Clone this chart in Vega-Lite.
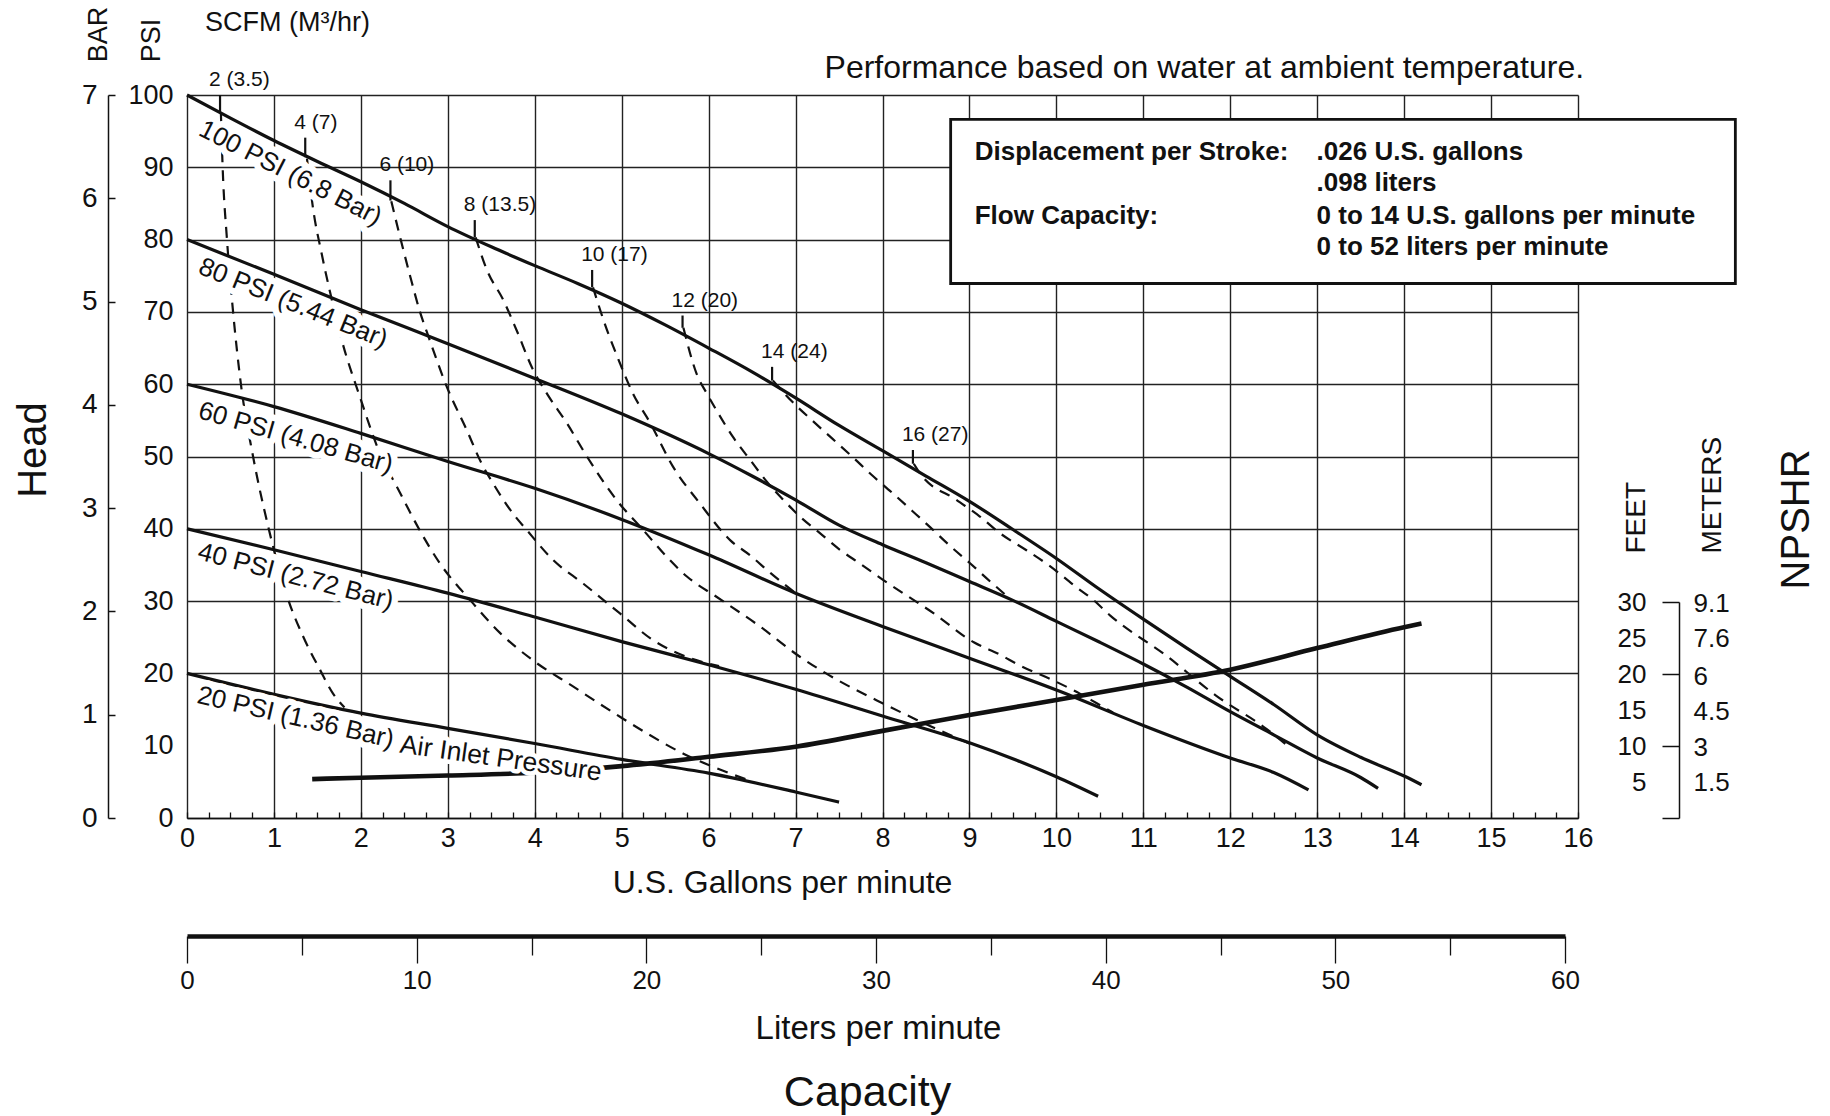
{
  "$schema": "https://vega.github.io/schema/vega-lite/v6.json",
  "width": 1391,
  "height": 723,
  "autosize": {"type": "none"},
  "padding": {"left": 187, "top": 95, "right": 252, "bottom": 298},
  "background": "white",
  "config": {
    "view": {"stroke": null},
    "font": "Liberation Sans",
    "text": {"font": "Liberation Sans", "color": "#111"},
    "axis": {
      "labelFont": "Liberation Sans", "titleFont": "Liberation Sans",
      "labelColor": "#111", "titleColor": "#111", "tickColor": "#111", "domainColor": "#111",
      "gridColor": "#222", "gridWidth": 1.4, "gridOpacity": 1,
      "titleFontWeight": "normal", "labelFontWeight": "normal"
    }
  },
  "datasets": {
    "pressure": [
      {"curve": "100 PSI", "gpm": 0, "psi": 100}, {"curve": "100 PSI", "gpm": 0.5, "psi": 96.8}, {"curve": "100 PSI", "gpm": 1, "psi": 93.7}, {"curve": "100 PSI", "gpm": 1.5, "psi": 90.8}, {"curve": "100 PSI", "gpm": 2, "psi": 88.0}, {"curve": "100 PSI", "gpm": 2.5, "psi": 85.0}, {"curve": "100 PSI", "gpm": 3, "psi": 81.8}, {"curve": "100 PSI", "gpm": 3.5, "psi": 79.0}, {"curve": "100 PSI", "gpm": 4, "psi": 76.4}, {"curve": "100 PSI", "gpm": 4.5, "psi": 73.9}, {"curve": "100 PSI", "gpm": 5, "psi": 71.2}, {"curve": "100 PSI", "gpm": 5.5, "psi": 68.2}, {"curve": "100 PSI", "gpm": 6, "psi": 65.0}, {"curve": "100 PSI", "gpm": 6.5, "psi": 61.7}, {"curve": "100 PSI", "gpm": 7, "psi": 58.1}, {"curve": "100 PSI", "gpm": 7.5, "psi": 54.3}, {"curve": "100 PSI", "gpm": 8, "psi": 50.8}, {"curve": "100 PSI", "gpm": 8.5, "psi": 47.3}, {"curve": "100 PSI", "gpm": 9, "psi": 43.8}, {"curve": "100 PSI", "gpm": 9.5, "psi": 39.9}, {"curve": "100 PSI", "gpm": 10, "psi": 35.9}, {"curve": "100 PSI", "gpm": 10.5, "psi": 31.6}, {"curve": "100 PSI", "gpm": 11, "psi": 27.5}, {"curve": "100 PSI", "gpm": 11.5, "psi": 23.5}, {"curve": "100 PSI", "gpm": 12, "psi": 19.6}, {"curve": "100 PSI", "gpm": 12.5, "psi": 15.7}, {"curve": "100 PSI", "gpm": 13, "psi": 11.5}, {"curve": "100 PSI", "gpm": 13.5, "psi": 8.4}, {"curve": "100 PSI", "gpm": 14, "psi": 5.8}, {"curve": "100 PSI", "gpm": 14.2, "psi": 4.6},
      {"curve": "80 PSI", "gpm": 0, "psi": 80}, {"curve": "80 PSI", "gpm": 1, "psi": 75.2}, {"curve": "80 PSI", "gpm": 2, "psi": 70.3}, {"curve": "80 PSI", "gpm": 3, "psi": 65.6}, {"curve": "80 PSI", "gpm": 4, "psi": 60.8}, {"curve": "80 PSI", "gpm": 5, "psi": 55.9}, {"curve": "80 PSI", "gpm": 6, "psi": 50.4}, {"curve": "80 PSI", "gpm": 6.5, "psi": 47.3}, {"curve": "80 PSI", "gpm": 7, "psi": 44.0}, {"curve": "80 PSI", "gpm": 7.5, "psi": 40.5}, {"curve": "80 PSI", "gpm": 8, "psi": 37.8}, {"curve": "80 PSI", "gpm": 8.5, "psi": 35.3}, {"curve": "80 PSI", "gpm": 9, "psi": 32.7}, {"curve": "80 PSI", "gpm": 9.5, "psi": 30.1}, {"curve": "80 PSI", "gpm": 10, "psi": 27.2}, {"curve": "80 PSI", "gpm": 10.5, "psi": 24.3}, {"curve": "80 PSI", "gpm": 11, "psi": 21.3}, {"curve": "80 PSI", "gpm": 11.5, "psi": 18.1}, {"curve": "80 PSI", "gpm": 12, "psi": 14.7}, {"curve": "80 PSI", "gpm": 12.5, "psi": 11.5}, {"curve": "80 PSI", "gpm": 13, "psi": 8.3}, {"curve": "80 PSI", "gpm": 13.5, "psi": 5.6}, {"curve": "80 PSI", "gpm": 13.7, "psi": 4.1},
      {"curve": "60 PSI", "gpm": 0, "psi": 60}, {"curve": "60 PSI", "gpm": 1, "psi": 56.9}, {"curve": "60 PSI", "gpm": 2, "psi": 53.2}, {"curve": "60 PSI", "gpm": 3, "psi": 49.3}, {"curve": "60 PSI", "gpm": 4, "psi": 45.6}, {"curve": "60 PSI", "gpm": 5, "psi": 41.3}, {"curve": "60 PSI", "gpm": 6, "psi": 36.4}, {"curve": "60 PSI", "gpm": 7, "psi": 31.1}, {"curve": "60 PSI", "gpm": 8, "psi": 26.5}, {"curve": "60 PSI", "gpm": 9, "psi": 22.1}, {"curve": "60 PSI", "gpm": 10, "psi": 17.7}, {"curve": "60 PSI", "gpm": 11, "psi": 12.8}, {"curve": "60 PSI", "gpm": 12, "psi": 8.3}, {"curve": "60 PSI", "gpm": 12.5, "psi": 6.3}, {"curve": "60 PSI", "gpm": 12.9, "psi": 3.9},
      {"curve": "40 PSI", "gpm": 0, "psi": 40}, {"curve": "40 PSI", "gpm": 1, "psi": 37.1}, {"curve": "40 PSI", "gpm": 2, "psi": 34.1}, {"curve": "40 PSI", "gpm": 3, "psi": 31.1}, {"curve": "40 PSI", "gpm": 4, "psi": 27.8}, {"curve": "40 PSI", "gpm": 5, "psi": 24.4}, {"curve": "40 PSI", "gpm": 6, "psi": 21.2}, {"curve": "40 PSI", "gpm": 7, "psi": 17.8}, {"curve": "40 PSI", "gpm": 8, "psi": 14.1}, {"curve": "40 PSI", "gpm": 9, "psi": 10.4}, {"curve": "40 PSI", "gpm": 10, "psi": 5.7}, {"curve": "40 PSI", "gpm": 10.48, "psi": 3.0},
      {"curve": "20 PSI", "gpm": 0, "psi": 20}, {"curve": "20 PSI", "gpm": 1, "psi": 17.1}, {"curve": "20 PSI", "gpm": 2, "psi": 14.5}, {"curve": "20 PSI", "gpm": 3, "psi": 12.4}, {"curve": "20 PSI", "gpm": 4, "psi": 10.3}, {"curve": "20 PSI", "gpm": 5, "psi": 8.1}, {"curve": "20 PSI", "gpm": 6, "psi": 6.2}, {"curve": "20 PSI", "gpm": 7, "psi": 3.6}, {"curve": "20 PSI", "gpm": 7.5, "psi": 2.2}
    ],
    "scfm": [
      {"curve": "2 (3.5)", "gpm": 0.39, "psi": 97.5}, {"curve": "2 (3.5)", "gpm": 0.41, "psi": 90}, {"curve": "2 (3.5)", "gpm": 0.46, "psi": 80}, {"curve": "2 (3.5)", "gpm": 0.53, "psi": 70}, {"curve": "2 (3.5)", "gpm": 0.62, "psi": 60}, {"curve": "2 (3.5)", "gpm": 0.76, "psi": 50}, {"curve": "2 (3.5)", "gpm": 0.94, "psi": 40}, {"curve": "2 (3.5)", "gpm": 1.17, "psi": 30}, {"curve": "2 (3.5)", "gpm": 1.34, "psi": 25}, {"curve": "2 (3.5)", "gpm": 1.53, "psi": 20.5}, {"curve": "2 (3.5)", "gpm": 1.68, "psi": 17.2}, {"curve": "2 (3.5)", "gpm": 1.81, "psi": 15.3},
      {"curve": "4 (7)", "gpm": 1.38, "psi": 91.2}, {"curve": "4 (7)", "gpm": 1.45, "psi": 84.3}, {"curve": "4 (7)", "gpm": 1.55, "psi": 78.0}, {"curve": "4 (7)", "gpm": 1.65, "psi": 72.5}, {"curve": "4 (7)", "gpm": 1.78, "psi": 66.1}, {"curve": "4 (7)", "gpm": 1.99, "psi": 58.2}, {"curve": "4 (7)", "gpm": 2.2, "psi": 51.0}, {"curve": "4 (7)", "gpm": 2.45, "psi": 45.0}, {"curve": "4 (7)", "gpm": 2.7, "psi": 39.3}, {"curve": "4 (7)", "gpm": 2.91, "psi": 35.2}, {"curve": "4 (7)", "gpm": 3.26, "psi": 30.1}, {"curve": "4 (7)", "gpm": 3.6, "psi": 25.6}, {"curve": "4 (7)", "gpm": 3.98, "psi": 21.8}, {"curve": "4 (7)", "gpm": 4.44, "psi": 18.2}, {"curve": "4 (7)", "gpm": 4.98, "psi": 14.0}, {"curve": "4 (7)", "gpm": 5.71, "psi": 8.9}, {"curve": "4 (7)", "gpm": 6.44, "psi": 5.3},
      {"curve": "6 (10)", "gpm": 2.35, "psi": 85.3}, {"curve": "6 (10)", "gpm": 2.45, "psi": 80.4}, {"curve": "6 (10)", "gpm": 2.57, "psi": 74.8}, {"curve": "6 (10)", "gpm": 2.68, "psi": 70.0}, {"curve": "6 (10)", "gpm": 2.78, "psi": 66.5}, {"curve": "6 (10)", "gpm": 2.99, "psi": 59.6}, {"curve": "6 (10)", "gpm": 3.22, "psi": 53.6}, {"curve": "6 (10)", "gpm": 3.39, "psi": 49.0}, {"curve": "6 (10)", "gpm": 3.52, "psi": 46.3}, {"curve": "6 (10)", "gpm": 3.75, "psi": 42.1}, {"curve": "6 (10)", "gpm": 3.91, "psi": 39.8}, {"curve": "6 (10)", "gpm": 4.21, "psi": 35.7}, {"curve": "6 (10)", "gpm": 4.56, "psi": 32.4}, {"curve": "6 (10)", "gpm": 4.98, "psi": 28.3}, {"curve": "6 (10)", "gpm": 5.36, "psi": 24.6}, {"curve": "6 (10)", "gpm": 5.7, "psi": 22.5}, {"curve": "6 (10)", "gpm": 6.12, "psi": 21.0},
      {"curve": "8 (13.5)", "gpm": 3.32, "psi": 80.3}, {"curve": "8 (13.5)", "gpm": 3.45, "psi": 75.8}, {"curve": "8 (13.5)", "gpm": 3.64, "psi": 71.6}, {"curve": "8 (13.5)", "gpm": 3.79, "psi": 67.5}, {"curve": "8 (13.5)", "gpm": 3.98, "psi": 62.0}, {"curve": "8 (13.5)", "gpm": 4.14, "psi": 58.7}, {"curve": "8 (13.5)", "gpm": 4.37, "psi": 54.6}, {"curve": "8 (13.5)", "gpm": 4.6, "psi": 50.0}, {"curve": "8 (13.5)", "gpm": 4.94, "psi": 44.0}, {"curve": "8 (13.5)", "gpm": 5.25, "psi": 39.8}, {"curve": "8 (13.5)", "gpm": 5.52, "psi": 36.1}, {"curve": "8 (13.5)", "gpm": 5.75, "psi": 33.4}, {"curve": "8 (13.5)", "gpm": 6.09, "psi": 30.6}, {"curve": "8 (13.5)", "gpm": 6.59, "psi": 26.5}, {"curve": "8 (13.5)", "gpm": 7.05, "psi": 22.3}, {"curve": "8 (13.5)", "gpm": 7.48, "psi": 19.1}, {"curve": "8 (13.5)", "gpm": 7.93, "psi": 16.3}, {"curve": "8 (13.5)", "gpm": 8.39, "psi": 13.6}, {"curve": "8 (13.5)", "gpm": 9.0, "psi": 10.3},
      {"curve": "10 (17)", "gpm": 4.67, "psi": 73.4}, {"curve": "10 (17)", "gpm": 4.79, "psi": 68.9}, {"curve": "10 (17)", "gpm": 4.98, "psi": 62.9}, {"curve": "10 (17)", "gpm": 5.13, "psi": 58.7}, {"curve": "10 (17)", "gpm": 5.33, "psi": 54.6}, {"curve": "10 (17)", "gpm": 5.59, "psi": 48.6}, {"curve": "10 (17)", "gpm": 5.9, "psi": 43.5}, {"curve": "10 (17)", "gpm": 6.25, "psi": 38.4}, {"curve": "10 (17)", "gpm": 6.48, "psi": 36.3}, {"curve": "10 (17)", "gpm": 6.71, "psi": 33.9}, {"curve": "10 (17)", "gpm": 7.0, "psi": 31.1},
      {"curve": "12 (20)", "gpm": 5.71, "psi": 67.8}, {"curve": "12 (20)", "gpm": 5.86, "psi": 61.5}, {"curve": "12 (20)", "gpm": 5.98, "psi": 58.7}, {"curve": "12 (20)", "gpm": 6.09, "psi": 56.4}, {"curve": "12 (20)", "gpm": 6.28, "psi": 52.7}, {"curve": "12 (20)", "gpm": 6.48, "psi": 49.5}, {"curve": "12 (20)", "gpm": 6.67, "psi": 46.5}, {"curve": "12 (20)", "gpm": 6.86, "psi": 44.0}, {"curve": "12 (20)", "gpm": 7.05, "psi": 41.7}, {"curve": "12 (20)", "gpm": 7.28, "psi": 39.4}, {"curve": "12 (20)", "gpm": 7.51, "psi": 37.1}, {"curve": "12 (20)", "gpm": 7.74, "psi": 35.2}, {"curve": "12 (20)", "gpm": 8.01, "psi": 32.9}, {"curve": "12 (20)", "gpm": 8.59, "psi": 28.3}, {"curve": "12 (20)", "gpm": 9.05, "psi": 24.3}, {"curve": "12 (20)", "gpm": 9.35, "psi": 22.6}, {"curve": "12 (20)", "gpm": 9.58, "psi": 21.1}, {"curve": "12 (20)", "gpm": 9.97, "psi": 19.0}, {"curve": "12 (20)", "gpm": 10.27, "psi": 17.2}, {"curve": "12 (20)", "gpm": 10.46, "psi": 15.9}, {"curve": "12 (20)", "gpm": 10.65, "psi": 14.6},
      {"curve": "14 (24)", "gpm": 6.74, "psi": 60.5}, {"curve": "14 (24)", "gpm": 6.96, "psi": 57.6}, {"curve": "14 (24)", "gpm": 7.19, "psi": 55.0}, {"curve": "14 (24)", "gpm": 7.42, "psi": 52.5}, {"curve": "14 (24)", "gpm": 7.65, "psi": 50.0}, {"curve": "14 (24)", "gpm": 7.88, "psi": 47.4}, {"curve": "14 (24)", "gpm": 8.11, "psi": 45.0}, {"curve": "14 (24)", "gpm": 8.34, "psi": 42.5}, {"curve": "14 (24)", "gpm": 8.55, "psi": 40.2}, {"curve": "14 (24)", "gpm": 8.78, "psi": 37.6}, {"curve": "14 (24)", "gpm": 9.01, "psi": 35.2}, {"curve": "14 (24)", "gpm": 9.24, "psi": 32.7}, {"curve": "14 (24)", "gpm": 9.47, "psi": 30.3},
      {"curve": "16 (27)", "gpm": 8.36, "psi": 49.0}, {"curve": "16 (27)", "gpm": 8.43, "psi": 47.7}, {"curve": "16 (27)", "gpm": 8.85, "psi": 44.0}, {"curve": "16 (27)", "gpm": 9.12, "psi": 41.7}, {"curve": "16 (27)", "gpm": 9.35, "psi": 39.4}, {"curve": "16 (27)", "gpm": 9.66, "psi": 37.0}, {"curve": "16 (27)", "gpm": 9.93, "psi": 34.8}, {"curve": "16 (27)", "gpm": 10.2, "psi": 32.2}, {"curve": "16 (27)", "gpm": 10.43, "psi": 30.1}, {"curve": "16 (27)", "gpm": 10.62, "psi": 28.0}, {"curve": "16 (27)", "gpm": 11.27, "psi": 22.4}, {"curve": "16 (27)", "gpm": 11.84, "psi": 16.9}, {"curve": "16 (27)", "gpm": 12.42, "psi": 12.3}, {"curve": "16 (27)", "gpm": 12.65, "psi": 10.1}
    ],
    "scfmTicks": [
      {"label": "2 (3.5)", "gpm": 0.38, "top": 100, "bottom": 97.5},
      {"label": "4 (7)", "gpm": 1.36, "top": 94.1, "bottom": 91.4},
      {"label": "6 (10)", "gpm": 2.34, "top": 88.2, "bottom": 85.4},
      {"label": "8 (13.5)", "gpm": 3.31, "top": 82.7, "bottom": 80.3},
      {"label": "10 (17)", "gpm": 4.66, "top": 75.8, "bottom": 73.4},
      {"label": "12 (20)", "gpm": 5.7, "top": 69.5, "bottom": 67.8},
      {"label": "14 (24)", "gpm": 6.73, "top": 62.4, "bottom": 60.5},
      {"label": "16 (27)", "gpm": 8.35, "top": 50.9, "bottom": 49.0}
    ],
    "npshr": [
      {"gpm": 1.44, "feet": 5.4}, {"gpm": 2, "feet": 5.6}, {"gpm": 3, "feet": 5.9}, {"gpm": 4, "feet": 6.3}, {"gpm": 5, "feet": 7.2}, {"gpm": 6, "feet": 8.5}, {"gpm": 7, "feet": 9.9}, {"gpm": 8, "feet": 12.1}, {"gpm": 9, "feet": 14.3}, {"gpm": 10, "feet": 16.4}, {"gpm": 11, "feet": 18.5}, {"gpm": 12, "feet": 20.6}, {"gpm": 13, "feet": 23.6}, {"gpm": 14, "feet": 26.5}, {"gpm": 14.2, "feet": 27.0}
    ],
    "pressureLabels": [
      {"label": "100 PSI (6.8 Bar)", "gpm": 1.19, "psi": 89.2},
      {"label": "80 PSI (5.44 Bar)", "gpm": 1.22, "psi": 71.2},
      {"label": "60 PSI (4.08 Bar)", "gpm": 1.25, "psi": 52.6},
      {"label": "40 PSI (2.72 Bar)", "gpm": 1.25, "psi": 33.4},
      {"label": "20 PSI (1.36 Bar)", "gpm": 1.25, "psi": 13.9},
      {"label": "Air Inlet Pressure", "gpm": 3.61, "psi": 8.2}
    ],
    "box": [{"gpm1": 8.784, "gpm2": 17.81, "psi1": 96.64, "psi2": 73.93}],
    "notes": [
      {"text": "Displacement per Stroke:", "gpm": 9.061, "psi": 92.08},
      {"text": ".026 U.S. gallons", "gpm": 12.993, "psi": 92.08},
      {"text": ".098 liters", "gpm": 12.993, "psi": 87.79},
      {"text": "Flow Capacity:", "gpm": 9.061, "psi": 83.3},
      {"text": "0 to 14 U.S. gallons per minute", "gpm": 12.993, "psi": 83.3},
      {"text": "0 to 52 liters per minute", "gpm": 12.993, "psi": 78.95}
    ],
    "annotations": [
      {"text": "Head", "gpm": -1.765, "psi": 50.9},
      {"text": "NPSHR", "gpm": 18.52, "psi": 41.3},
      {"text": "SCFM (M³/hr)", "gpm": 0.207, "psi": 109.9},
      {"text": "Performance based on water at ambient temperature.", "gpm": 16.07, "psi": 103.7}
    ],
    "barExtent": [{"bar": 0}, {"bar": 7}],
    "meterExtent": [{"m": 0}, {"m": 9.144}],
    "literExtent": [{"lpm": 0}, {"lpm": 60}]
  },
  "resolve": {"scale": {"x": "independent", "y": "independent"}},
  "layer": [
    {
      "data": {"name": "npshr"},
      "mark": {"type": "line", "interpolate": "monotone", "strokeWidth": 4.6, "color": "#111"},
      "encoding": {
        "x": {"field": "gpm", "type": "quantitative", "scale": {"domain": [0, 16], "nice": false}, "axis": null},
        "y": {"field": "feet", "type": "quantitative", "scale": {"domain": [0, 30], "range": [723, 507], "nice": false},
          "axis": {
            "orient": "left", "offset": -1492, "values": [0, 5, 10, 15, 20, 25, 30], "grid": false,
            "domain": true, "domainWidth": 1.5, "tickSize": 17, "tickWidth": 1.5,
            "tickOpacity": {"condition": {"test": "datum.value % 10 === 0", "value": 1}, "value": 0},
            "labelExpr": "datum.value === 0 ? '' : datum.label", "labelPadding": 16, "labelFontSize": 26,
            "title": "FEET", "titleFontSize": 28, "titleAngle": 270, "titleAlign": "left", "titleBaseline": "middle", "titleX": -43, "titleY": 458
          }
        }
      }
    },
    {
      "resolve": {"axis": {"x": "independent", "y": "independent"}},
      "layer": [
        {
          "data": {"name": "pressure"},
          "mark": {"type": "line", "interpolate": "monotone", "strokeWidth": 3.2, "color": "#111"},
          "encoding": {
            "x": {"field": "gpm", "type": "quantitative", "scale": {"domain": [0, 16], "nice": false},
              "axis": {
                "orient": "bottom",
                "values": [0,0.25,0.5,0.75,1,1.25,1.5,1.75,2,2.25,2.5,2.75,3,3.25,3.5,3.75,4,4.25,4.5,4.75,5,5.25,5.5,5.75,6,6.25,6.5,6.75,7,7.25,7.5,7.75,8,8.25,8.5,8.75,9,9.25,9.5,9.75,10,10.25,10.5,10.75,11,11.25,11.5,11.75,12,12.25,12.5,12.75,13,13.25,13.5,13.75,14,14.25,14.5,14.75,15,15.25,15.5,15.75,16],
                "grid": true,
                "gridOpacity": {"condition": {"test": "datum.value % 1 === 0", "value": 1}, "value": 0},
                "tickSize": -6, "tickWidth": 1.3, "domain": true, "domainWidth": 1.4,
                "labelExpr": "datum.value % 1 === 0 ? format(datum.value, 'd') : ''",
                "labelFontSize": 27, "labelPadding": 13, "labelFlush": false, "labelOverlap": false,
                "title": "U.S. Gallons per minute", "titleFontSize": 32, "titleX": 595, "titleY": 64, "titleBaseline": "middle", "titleAlign": "center"
              }
            },
            "y": {"field": "psi", "type": "quantitative", "scale": {"domain": [0, 100], "nice": false},
              "axis": {
                "orient": "left", "values": [0, 10, 20, 30, 40, 50, 60, 70, 80, 90, 100], "grid": true,
                "gridOpacity": {"condition": {"test": "datum.value === 10", "value": 0}, "value": 1},
                "domain": false, "tickSize": 0, "labelPadding": 14, "labelFontSize": 27,
                "title": "PSI", "titleFontSize": 27, "titleAngle": 270, "titleAlign": "left", "titleBaseline": "middle", "titleX": -35.6, "titleY": -33.3
              }
            },
            "detail": {"field": "curve"}
          }
        },
        {
          "data": {"name": "scfm"},
          "mark": {"type": "line", "interpolate": "monotone", "strokeWidth": 2.2, "strokeDash": [11, 8], "color": "#111"},
          "encoding": {
            "x": {"field": "gpm", "type": "quantitative", "scale": {"domain": [0, 16], "nice": false}, "axis": null},
            "y": {"field": "psi", "type": "quantitative", "scale": {"domain": [0, 100], "nice": false}, "axis": null},
            "detail": {"field": "curve"}
          }
        },
        {
          "data": {"name": "scfmTicks"},
          "mark": {"type": "rule", "strokeWidth": 2.2, "color": "#111"},
          "encoding": {
            "x": {"field": "gpm", "type": "quantitative", "scale": {"domain": [0, 16], "nice": false}, "axis": null},
            "y": {"field": "top", "type": "quantitative", "scale": {"domain": [0, 100], "nice": false}, "axis": null},
            "y2": {"field": "bottom"}
          }
        },
        {
          "data": {"name": "scfmTicks"},
          "mark": {"type": "text", "align": "left", "baseline": "bottom", "dx": -11, "dy": -5, "fontSize": 21, "color": "#111"},
          "encoding": {
            "x": {"field": "gpm", "type": "quantitative", "scale": {"domain": [0, 16], "nice": false}, "axis": null},
            "y": {"field": "top", "type": "quantitative", "scale": {"domain": [0, 100], "nice": false}, "axis": null},
            "text": {"field": "label"}
          }
        },
        {
          "data": {"name": "pressureLabels"},
          "transform": [{"filter": "datum.label === '100 PSI (6.8 Bar)'"}],
          "encoding": {
            "x": {"field": "gpm", "type": "quantitative", "scale": {"domain": [0, 16], "nice": false}, "axis": null},
            "y": {"field": "psi", "type": "quantitative", "scale": {"domain": [0, 100], "nice": false}, "axis": null},
            "text": {"field": "label"}
          },
          "layer": [
            {"mark": {"type": "text", "angle": 27, "fontSize": 26, "color": "white", "stroke": "white", "strokeWidth": 13, "strokeJoin": "round"}},
            {"mark": {"type": "text", "angle": 27, "fontSize": 26, "color": "#111"}}
          ]
        },
        {
          "data": {"name": "pressureLabels"},
          "transform": [{"filter": "datum.label === '80 PSI (5.44 Bar)'"}],
          "encoding": {
            "x": {"field": "gpm", "type": "quantitative", "scale": {"domain": [0, 16], "nice": false}, "axis": null},
            "y": {"field": "psi", "type": "quantitative", "scale": {"domain": [0, 100], "nice": false}, "axis": null},
            "text": {"field": "label"}
          },
          "layer": [
            {"mark": {"type": "text", "angle": 22, "fontSize": 26, "color": "white", "stroke": "white", "strokeWidth": 13, "strokeJoin": "round"}},
            {"mark": {"type": "text", "angle": 22, "fontSize": 26, "color": "#111"}}
          ]
        },
        {
          "data": {"name": "pressureLabels"},
          "transform": [{"filter": "datum.label === '60 PSI (4.08 Bar)'"}],
          "encoding": {
            "x": {"field": "gpm", "type": "quantitative", "scale": {"domain": [0, 16], "nice": false}, "axis": null},
            "y": {"field": "psi", "type": "quantitative", "scale": {"domain": [0, 100], "nice": false}, "axis": null},
            "text": {"field": "label"}
          },
          "layer": [
            {"mark": {"type": "text", "angle": 16, "fontSize": 26, "color": "white", "stroke": "white", "strokeWidth": 13, "strokeJoin": "round"}},
            {"mark": {"type": "text", "angle": 16, "fontSize": 26, "color": "#111"}}
          ]
        },
        {
          "data": {"name": "pressureLabels"},
          "transform": [{"filter": "datum.label === '40 PSI (2.72 Bar)'"}],
          "encoding": {
            "x": {"field": "gpm", "type": "quantitative", "scale": {"domain": [0, 16], "nice": false}, "axis": null},
            "y": {"field": "psi", "type": "quantitative", "scale": {"domain": [0, 100], "nice": false}, "axis": null},
            "text": {"field": "label"}
          },
          "layer": [
            {"mark": {"type": "text", "angle": 14.5, "fontSize": 26, "color": "white", "stroke": "white", "strokeWidth": 13, "strokeJoin": "round"}},
            {"mark": {"type": "text", "angle": 14.5, "fontSize": 26, "color": "#111"}}
          ]
        },
        {
          "data": {"name": "pressureLabels"},
          "transform": [{"filter": "datum.label === '20 PSI (1.36 Bar)'"}],
          "encoding": {
            "x": {"field": "gpm", "type": "quantitative", "scale": {"domain": [0, 16], "nice": false}, "axis": null},
            "y": {"field": "psi", "type": "quantitative", "scale": {"domain": [0, 100], "nice": false}, "axis": null},
            "text": {"field": "label"}
          },
          "layer": [
            {"mark": {"type": "text", "angle": 13, "fontSize": 26, "color": "white", "stroke": "white", "strokeWidth": 13, "strokeJoin": "round"}},
            {"mark": {"type": "text", "angle": 13, "fontSize": 26, "color": "#111"}}
          ]
        },
        {
          "data": {"name": "pressureLabels"},
          "transform": [{"filter": "datum.label === 'Air Inlet Pressure'"}],
          "encoding": {
            "x": {"field": "gpm", "type": "quantitative", "scale": {"domain": [0, 16], "nice": false}, "axis": null},
            "y": {"field": "psi", "type": "quantitative", "scale": {"domain": [0, 100], "nice": false}, "axis": null},
            "text": {"field": "label"}
          },
          "layer": [
            {"mark": {"type": "text", "angle": 8, "fontSize": 26.5, "color": "white", "stroke": "white", "strokeWidth": 9, "strokeJoin": "round"}},
            {"mark": {"type": "text", "angle": 8, "fontSize": 26.5, "color": "#111"}}
          ]
        },
        {
          "data": {"name": "box"},
          "mark": {"type": "rect", "fill": "white", "stroke": "#111", "strokeWidth": 2.8},
          "encoding": {
            "x": {"field": "gpm1", "type": "quantitative", "scale": {"domain": [0, 16], "nice": false}, "axis": null},
            "x2": {"field": "gpm2"},
            "y": {"field": "psi1", "type": "quantitative", "scale": {"domain": [0, 100], "nice": false}, "axis": null},
            "y2": {"field": "psi2"}
          }
        },
        {
          "data": {"name": "notes"},
          "mark": {"type": "text", "align": "left", "baseline": "middle", "fontSize": 26, "fontWeight": "bold", "color": "#111"},
          "encoding": {
            "x": {"field": "gpm", "type": "quantitative", "scale": {"domain": [0, 16], "nice": false}, "axis": null},
            "y": {"field": "psi", "type": "quantitative", "scale": {"domain": [0, 100], "nice": false}, "axis": null},
            "text": {"field": "text"}
          }
        },
        {
          "data": {"name": "annotations"},
          "transform": [{"filter": "datum.text === 'Head' || datum.text === 'NPSHR'"}],
          "mark": {"type": "text", "align": "center", "baseline": "middle", "angle": 270, "fontSize": 40, "color": "#111"},
          "encoding": {
            "x": {"field": "gpm", "type": "quantitative", "scale": {"domain": [0, 16], "nice": false}, "axis": null},
            "y": {"field": "psi", "type": "quantitative", "scale": {"domain": [0, 100], "nice": false}, "axis": null},
            "text": {"field": "text"}
          }
        },
        {
          "data": {"name": "annotations"},
          "transform": [{"filter": "datum.text === 'SCFM (M³/hr)'"}],
          "mark": {"type": "text", "align": "left", "baseline": "middle", "fontSize": 27, "color": "#111"},
          "encoding": {
            "x": {"field": "gpm", "type": "quantitative", "scale": {"domain": [0, 16], "nice": false}, "axis": null},
            "y": {"field": "psi", "type": "quantitative", "scale": {"domain": [0, 100], "nice": false}, "axis": null},
            "text": {"field": "text"}
          }
        },
        {
          "data": {"name": "annotations"},
          "transform": [{"filter": "indexof(datum.text, 'Performance') === 0"}],
          "mark": {"type": "text", "align": "right", "baseline": "middle", "fontSize": 32, "color": "#111"},
          "encoding": {
            "x": {"field": "gpm", "type": "quantitative", "scale": {"domain": [0, 16], "nice": false}, "axis": null},
            "y": {"field": "psi", "type": "quantitative", "scale": {"domain": [0, 100], "nice": false}, "axis": null},
            "text": {"field": "text"}
          }
        }
      ]
    },
    {
      "data": {"name": "barExtent"},
      "mark": {"type": "rule", "strokeOpacity": 0},
      "encoding": {
        "y": {"field": "bar", "type": "quantitative", "scale": {"domain": [0, 7], "nice": false},
          "axis": {
            "orient": "left", "offset": 79, "values": [0, 1, 2, 3, 4, 5, 6, 7], "grid": false,
            "domain": true, "domainWidth": 1.5, "tickSize": -7, "tickWidth": 1.5,
            "labelPadding": 18, "labelFontSize": 28,
            "title": "BAR", "titleFontSize": 27, "titleAngle": 270, "titleAlign": "left", "titleBaseline": "middle", "titleX": -9.2, "titleY": -33.3
          }
        }
      }
    },
    {
      "data": {"name": "meterExtent"},
      "mark": {"type": "rule", "strokeOpacity": 0},
      "encoding": {
        "y": {"field": "m", "type": "quantitative", "scale": {"domain": [0, 9.144], "range": [723, 507], "nice": false},
          "axis": {
            "orient": "right", "offset": 101, "values": [1.5, 3, 4.5, 6, 7.6, 9.1], "grid": false,
            "domain": false, "ticks": false, "tickSize": 0, "format": ".1~f",
            "labelPadding": 14, "labelFontSize": 26,
            "title": "METERS", "titleFontSize": 28, "titleAngle": 270, "titleAlign": "left", "titleBaseline": "middle", "titleX": 33, "titleY": 458
          }
        }
      }
    },
    {
      "data": {"name": "literExtent"},
      "mark": {"type": "rule", "strokeOpacity": 0},
      "encoding": {
        "x": {"field": "lpm", "type": "quantitative", "scale": {"domain": [0, 60], "range": [0, 1378], "nice": false},
          "axis": {
            "orient": "bottom", "offset": 118, "values": [0, 10, 20, 30, 40, 50, 60], "grid": false,
            "domain": true, "domainWidth": 4.5, "tickSize": 27, "tickWidth": 1.3, "format": "d",
            "labelPadding": 4, "labelFontSize": 26, "labelFlush": false,
            "title": "Liters per minute", "titleFontSize": 33, "titleX": 691, "titleY": 92, "titleBaseline": "middle", "titleAlign": "center"
          }
        }
      }
    },
    {
      "data": {"name": "literExtent"},
      "mark": {"type": "rule", "strokeOpacity": 0},
      "encoding": {
        "x": {"field": "lpm", "type": "quantitative", "scale": {"domain": [0, 60], "range": [0, 1378], "nice": false},
          "axis": {
            "orient": "bottom", "offset": 118, "values": [5, 15, 25, 35, 45, 55], "grid": false,
            "domain": false, "tickSize": 19, "tickWidth": 1.3, "labels": false,
            "title": "Capacity", "titleFontSize": 43, "titleX": 680, "titleY": 156, "titleBaseline": "middle", "titleAlign": "center"
          }
        }
      }
    }
  ]
}
